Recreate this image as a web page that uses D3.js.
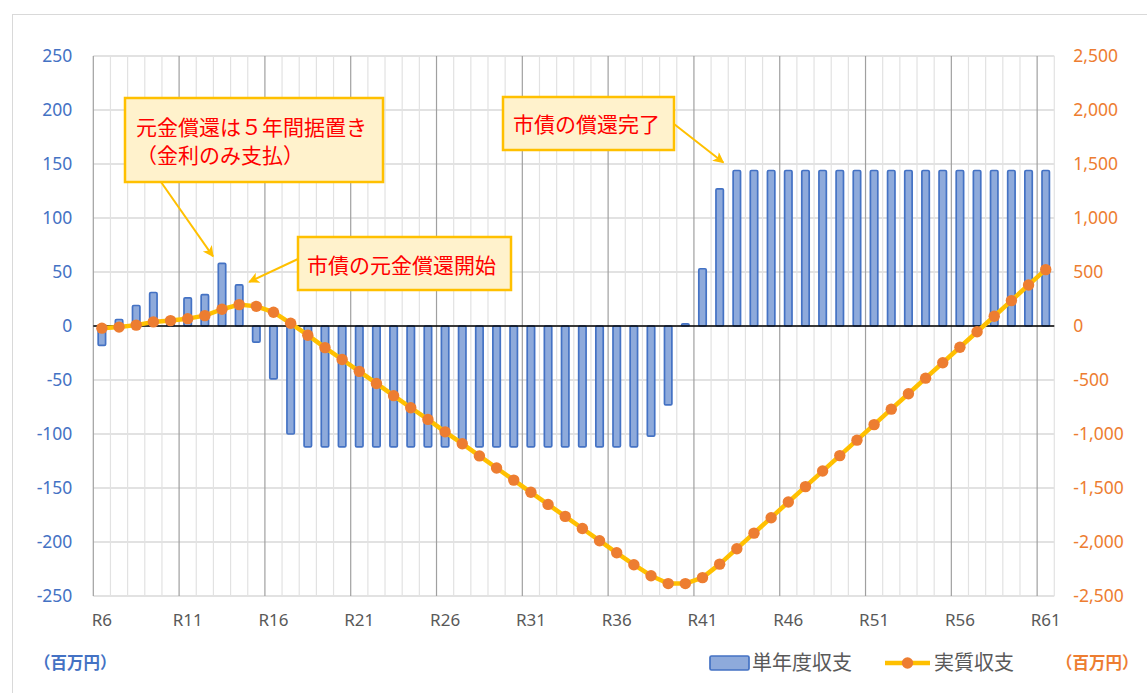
<!DOCTYPE html>
<html><head><meta charset="utf-8">
<script src="https://cdn.jsdelivr.net/npm/d3@7"></script>
<style>body{margin:0;background:#fff}svg{display:block}</style>
</head><body><svg id="c" width="1147" height="693"></svg>
<script>
// ---- data ----
const categories = ["R6","R7","R8","R9","R10","R11","R12","R13","R14","R15","R16","R17","R18","R19","R20","R21","R22","R23","R24","R25","R26","R27","R28","R29","R30","R31","R32","R33","R34","R35","R36","R37","R38","R39","R40","R41","R42","R43","R44","R45","R46","R47","R48","R49","R50","R51","R52","R53","R54","R55","R56","R57","R58","R59","R60","R61"];
const annualBalance = [-18,6,19,31,3,26,29,58,38,-15,-49,-100,-112,-112,-112,-112,-112,-112,-112,-112,-112,-112,-112,-112,-112,-112,-112,-112,-112,-112,-112,-112,-102,-73,2,53,127,144,144,144,144,144,144,144,144,144,144,144,144,144,144,144,144,144,144,144];
const realBalance = [-20,-10,8,38,50,68,96,155,198,182,128,25,-85,-200,-310,-420,-532,-645,-757,-865,-980,-1090,-1203,-1315,-1427,-1540,-1652,-1763,-1875,-1988,-2100,-2210,-2312,-2385,-2385,-2330,-2205,-2062,-1918,-1775,-1630,-1487,-1343,-1200,-1057,-913,-770,-627,-483,-340,-197,-53,90,235,380,522];
const xTickLabels = ["R6","R11","R16","R21","R26","R31","R36","R41","R46","R51","R56","R61"];
const leftTicks = [250,200,150,100,50,0,-50,-100,-150,-200,-250];
const rightTicks = [2500,2000,1500,1000,500,0,-500,-1000,-1500,-2000,-2500];
const seriesNames = ["単年度収支","実質収支"];
const unitLabel = "（百万円）";
const noteTexts = [["元金償還は５年間据置き","（金利のみ支払）"],["市債の元金償還開始"],["市債の償還完了"]];
const noteTargets = ["R13","R14","R43"];

// ---- layout ----
const svg = d3.select("#c");
const L = 93.3, R = 1054.3, T = 56, B = 596;
const x = d3.scaleBand().domain(categories).range([L, R]).paddingInner(0).paddingOuter(0);
const yL = d3.scaleLinear().domain([-250, 250]).range([B, T]);
const yR = d3.scaleLinear().domain([-2500, 2500]).range([B, T]);
const fmtL = d => String(d);
const fmtR = d => d3.format(",")(d).replace("\u2212", "-");
const latin = "'Noto Sans', 'Open Sans', sans-serif";
const jp = "'Noto Sans CJK JP', 'Noto Sans', sans-serif";

// outer frame
svg.append("rect").attr("x", 12.5).attr("y", 14.5).attr("width", 1300).attr("height", 800)
  .attr("fill", "none").attr("stroke", "#d9d9d9").attr("stroke-width", 1);

const g = svg.append("g");
// horizontal gridlines
g.selectAll("line.h").data(leftTicks).join("line")
  .attr("x1", L).attr("x2", R).attr("y1", d => yL(d)).attr("y2", d => yL(d))
  .attr("stroke", "#d9d9d9").attr("stroke-width", 1.3);
// minor vertical gridlines
const bounds = categories.map(c => x(c)).concat([R]);
g.selectAll("line.vm").data(bounds.filter((b, i) => i % 5 !== 0)).join("line")
  .attr("x1", d => d).attr("x2", d => d).attr("y1", T).attr("y2", B)
  .attr("stroke", "#e2e2e2").attr("stroke-width", 1.2);
// major vertical gridlines
g.selectAll("line.vM").data(bounds.filter((b, i) => i % 5 === 0 && i < categories.length)).join("line")
  .attr("x1", d => d).attr("x2", d => d).attr("y1", T).attr("y2", B)
  .attr("stroke", "#a0a0a0").attr("stroke-width", 1.2);

// bars
const bw = 7.4;
g.selectAll("rect.bar").data(annualBalance).join("rect")
  .attr("x", (d, i) => x(categories[i]) + x.bandwidth() / 2 - bw / 2)
  .attr("width", bw)
  .attr("y", d => Math.min(yL(d), yL(0)))
  .attr("height", d => Math.abs(yL(d) - yL(0)))
  .attr("rx", 1.2)
  .attr("fill", "#8eaadb").attr("stroke", "#4472c4").attr("stroke-width", 1.7)
  .attr("display", d => d === 0 ? "none" : null);

// zero line
g.append("line").attr("x1", L).attr("x2", R).attr("y1", yL(0)).attr("y2", yL(0))
  .attr("stroke", "#000").attr("stroke-width", 1.6);

// line series
const cx = (d, i) => x(categories[i]) + x.bandwidth() / 2;
g.append("path").datum(realBalance)
  .attr("d", d3.line().x(cx).y(d => yR(d)))
  .attr("fill", "none").attr("stroke", "#ffc000").attr("stroke-width", 4.5).attr("stroke-linejoin", "round");
g.selectAll("circle.pt").data(realBalance).join("circle")
  .attr("cx", cx).attr("cy", d => yR(d)).attr("r", 5.7).attr("fill", "#ed7d31");

// axes
const axL = svg.append("g").attr("transform", `translate(${L},0)`)
  .call(d3.axisLeft(yL).tickValues(leftTicks).tickFormat(fmtL).tickSize(0).tickPadding(21));
axL.select(".domain").remove();
axL.selectAll("text").attr("fill", "#4472c4").style("font-family", latin).style("font-size", "17.5px");

const axR = svg.append("g").attr("transform", `translate(${R},0)`)
  .call(d3.axisRight(yR).tickValues(rightTicks).tickFormat(fmtR).tickSize(0).tickPadding(19));
axR.select(".domain").remove();
axR.selectAll("text").attr("fill", "#ed7d31").style("font-family", latin).style("font-size", "17.5px");

const axB = svg.append("g").attr("transform", `translate(0,${B})`)
  .call(d3.axisBottom(x).tickValues(xTickLabels).tickSize(0).tickPadding(18));
axB.select(".domain").remove();
axB.selectAll("text").attr("fill", "#595959").style("font-family", latin).style("font-size", "17px");

// unit labels
svg.append("text").attr("x", 34).attr("y", 669).text(unitLabel)
  .attr("fill", "#4472c4").style("font-family", jp).style("font-size", "16.5px").style("font-weight", "bold");
svg.append("text").attr("x", 1056).attr("y", 669).text(unitLabel)
  .attr("fill", "#ed7d31").style("font-family", jp).style("font-size", "16.5px").style("font-weight", "bold");

// legend
const lg = svg.append("g");
lg.append("rect").attr("x", 710).attr("y", 656).attr("width", 39).attr("height", 14).attr("rx", 1.5)
  .attr("fill", "#8eaadb").attr("stroke", "#4472c4").attr("stroke-width", 1.7);
lg.append("text").attr("x", 752).attr("y", 670).text(seriesNames[0])
  .attr("fill", "#595959").style("font-family", jp).style("font-size", "20px");
lg.append("line").attr("x1", 885).attr("x2", 930).attr("y1", 663).attr("y2", 663)
  .attr("stroke", "#ffc000").attr("stroke-width", 4.5);
lg.append("circle").attr("cx", 907.5).attr("cy", 663).attr("r", 5.7).attr("fill", "#ed7d31");
lg.append("text").attr("x", 934).attr("y", 670).text(seriesNames[1])
  .attr("fill", "#595959").style("font-family", jp).style("font-size", "20px");

// annotations
const defs = svg.append("defs");
defs.append("marker").attr("id", "ah").attr("viewBox", "0 0 10 10").attr("refX", 9).attr("refY", 5)
  .attr("markerWidth", 13).attr("markerHeight", 11).attr("markerUnits", "userSpaceOnUse").attr("orient", "auto")
  .append("path").attr("d", "M0,0 L10,5 L0,10 L2.5,5 Z").attr("fill", "#ffc000");

const boxes = [
  {x: 125, y: 98, w: 258, h: 84, tx: 136, ty: [135, 163], from: [161, 182], tip: i => [cx(0, i) - 9, yL(annualBalance[i]) - 7]},
  {x: 298, y: 237, w: 213, h: 53, tx: 307, ty: [273], from: [298, 259], tip: i => [cx(0, i) + 10, yL(annualBalance[i]) - 3]},
  {x: 503, y: 97, w: 171, h: 53, tx: 513, ty: [132], from: [674, 124], tip: i => [cx(0, i) - 13.5, yL(annualBalance[i]) - 8]}
];
boxes.forEach((b, k) => {
  const idx = categories.indexOf(noteTargets[k]);
  const tp = b.tip(idx);
  svg.append("line").attr("x1", b.from[0]).attr("y1", b.from[1]).attr("x2", tp[0]).attr("y2", tp[1])
    .attr("stroke", "#ffc000").attr("stroke-width", 2).attr("marker-end", "url(#ah)");
  svg.append("rect").attr("x", b.x).attr("y", b.y).attr("width", b.w).attr("height", b.h)
    .attr("fill", "#fff2cc").attr("stroke", "#ffc000").attr("stroke-width", 2.5);
  noteTexts[k].forEach((t, j) => {
    svg.append("text").attr("x", b.tx).attr("y", b.ty[j]).text(t)
      .attr("fill", "#ff0000").style("font-family", jp).style("font-size", "21px");
  });
});
</script></body></html>
